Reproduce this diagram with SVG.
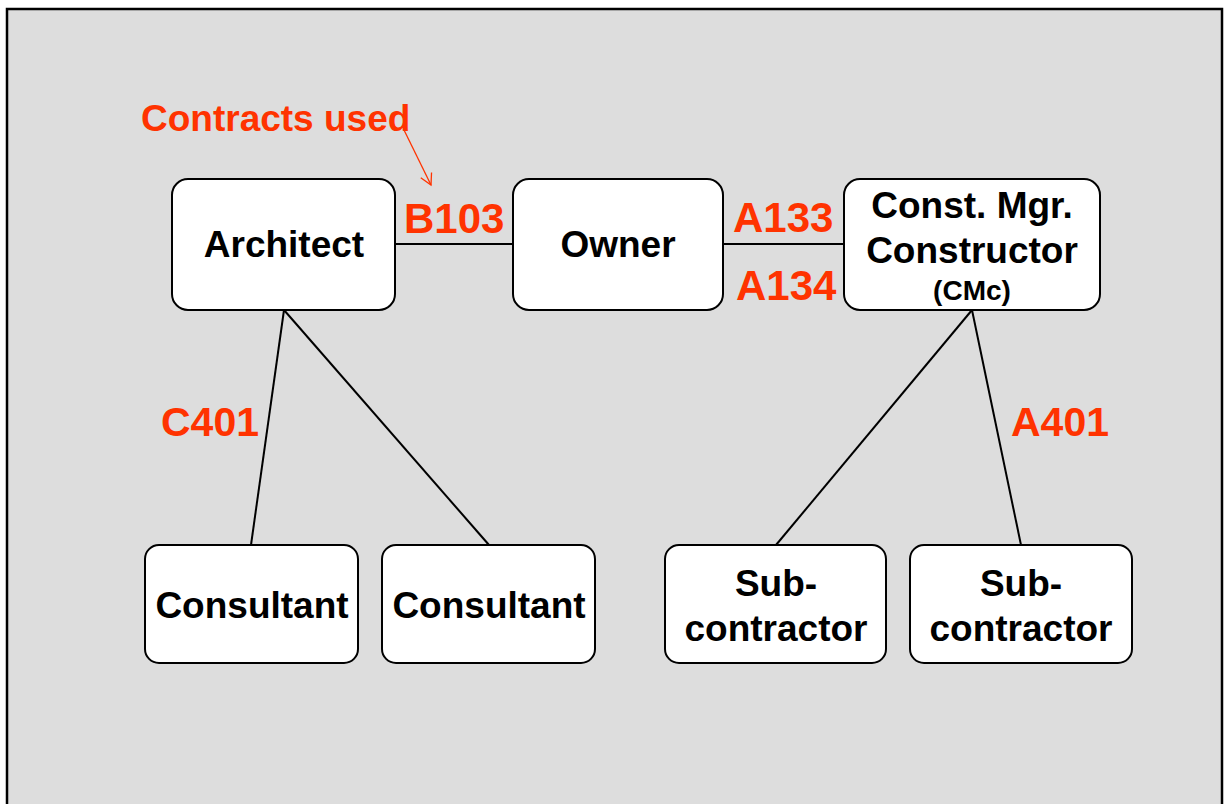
<svg xmlns="http://www.w3.org/2000/svg" width="1225" height="804" viewBox="0 0 1225 804">
<defs>
<style>
.node rect{fill:#fff;stroke:#000;stroke-width:2}
.t{font-family:"Liberation Sans",Arial,sans-serif;font-weight:bold;font-size:37px;fill:#000;text-anchor:middle}
.r{font-family:"Liberation Sans",Arial,sans-serif;font-weight:bold;fill:#FF3300}
.c line{stroke:#000;stroke-width:2}
</style>
<marker id="ah" markerWidth="14" markerHeight="14" refX="12" refY="7" orient="auto" markerUnits="userSpaceOnUse">
<path d="M1,1 L12,7 L1,13" fill="none" stroke="#FF3300" stroke-width="1.3"/>
</marker>
</defs>
<rect x="0" y="0" width="1225" height="804" fill="#fff"/>
<rect x="7" y="9" width="1215" height="820" fill="#DDDDDD" stroke="#000" stroke-width="2.5"/>
<g class="c">
<line x1="395" y1="244" x2="513" y2="244"/>
<line x1="723" y1="244" x2="844" y2="244"/>
<line x1="284" y1="310" x2="251" y2="545"/>
<line x1="284" y1="310" x2="489" y2="545"/>
<line x1="972" y1="310" x2="776" y2="545"/>
<line x1="972" y1="310" x2="1021" y2="545"/>
<line x1="404" y1="130" x2="431" y2="185" style="stroke:#FF3300;stroke-width:1.3" marker-end="url(#ah)"/>
</g>
<g id="architect" class="node"><rect x="172" y="179" width="223" height="131" rx="16"/><text class="t" x="284" y="257">Architect</text></g>
<g id="owner" class="node"><rect x="513" y="179" width="210" height="131" rx="16"/><text class="t" x="618" y="257">Owner</text></g>
<g id="cmc" class="node"><rect x="844" y="179" width="256" height="131" rx="16"/><text class="t" x="972" y="218">Const. Mgr.</text><text class="t" x="972" y="263">Constructor</text><text class="t" x="972" y="300" style="font-size:28px">(CMc)</text></g>
<g id="consultant1" class="node"><rect x="145" y="545" width="213" height="118" rx="14"/><text class="t" x="252" y="618">Consultant</text></g>
<g id="consultant2" class="node"><rect x="382" y="545" width="213" height="118" rx="14"/><text class="t" x="489" y="618">Consultant</text></g>
<g id="sub1" class="node"><rect x="665" y="545" width="221" height="118" rx="14"/><text class="t" x="776" y="596">Sub-</text><text class="t" x="776" y="641">contractor</text></g>
<g id="sub2" class="node"><rect x="910" y="545" width="222" height="118" rx="14"/><text class="t" x="1021" y="596">Sub-</text><text class="t" x="1021" y="641">contractor</text></g>
<g id="labels">
<text class="r" x="141" y="131" style="font-size:37px">Contracts used</text>
<text class="r" x="404" y="233" style="font-size:42px">B103</text>
<text class="r" x="733" y="232" style="font-size:42px">A133</text>
<text class="r" x="736" y="300" style="font-size:42px">A134</text>
<text class="r" x="161" y="436" style="font-size:41px">C401</text>
<text class="r" x="1011" y="436" style="font-size:41px">A401</text>
</g>
</svg>
